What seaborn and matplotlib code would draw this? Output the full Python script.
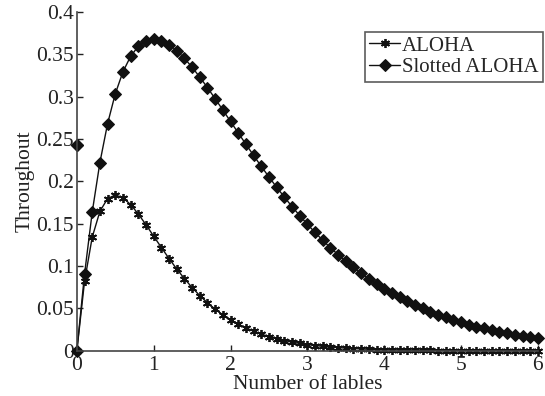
import numpy as np
import pandas as pd
import matplotlib
matplotlib.use('Agg')
import matplotlib.pyplot as plt
import seaborn as sns

# -- Data --
load = [round(0.1 * i, 1) for i in range(61)]

aloha = [0.0, 0.0819, 0.1341, 0.1646, 0.1797, 0.1839, 0.1807, 0.1726, 0.1615, 0.1488,
         0.1353, 0.1219, 0.1089, 0.0966, 0.0852, 0.0747, 0.0652, 0.0567, 0.0492, 0.0425,
         0.0366, 0.0315, 0.0271, 0.0232, 0.0198, 0.0168, 0.0143, 0.0122, 0.0103, 0.0088,
         0.0074, 0.0063, 0.0053, 0.0045, 0.0038, 0.0032, 0.0027, 0.0022, 0.0019, 0.0016,
         0.0013, 0.0011, 0.0009, 0.0008, 0.0007, 0.0006, 0.0005, 0.0004, 0.0003, 0.0003,
         0.0002, 0.0002, 0.0002, 0.0001, 0.0001, 0.0001, 0.0001, 0.0001, 0.0001, 0.0, 0.0]

slotted = [0.0, 0.0905, 0.1637, 0.2222, 0.2681, 0.3033, 0.3293, 0.3476, 0.3595, 0.3659,
           0.3679, 0.3662, 0.3614, 0.3543, 0.3452, 0.3347, 0.3230, 0.3106, 0.2975, 0.2842,
           0.2707, 0.2572, 0.2438, 0.2306, 0.2177, 0.2052, 0.1931, 0.1815, 0.1703, 0.1596,
           0.1494, 0.1397, 0.1304, 0.1217, 0.1135, 0.1057, 0.0984, 0.0915, 0.0851, 0.0790,
           0.0733, 0.0680, 0.0630, 0.0584, 0.0541, 0.0500, 0.0463, 0.0428, 0.0395, 0.0365,
           0.0337, 0.0311, 0.0287, 0.0265, 0.0244, 0.0225, 0.0207, 0.0191, 0.0176, 0.0162,
           0.0155]

# stray slotted marker sitting on the y axis
stray_x = [0.0]
stray_y = [0.243]

yticks = [0, 0.05, 0.1, 0.15, 0.2, 0.25, 0.3, 0.35, 0.4]
ytick_labels = ['0', '0.05', '0.1', '0.15', '0.2', '0.25', '0.3', '0.35', '0.4']
xticks = [0, 1, 2, 3, 4, 5, 6]

# -- Style --
sns.set_style('ticks')
plt.rcParams['font.family'] = ['Liberation Serif', 'DejaVu Serif']
plt.rcParams['xtick.direction'] = 'in'
plt.rcParams['ytick.direction'] = 'in'

df = pd.DataFrame({'load': load, 'ALOHA': aloha, 'Slotted ALOHA': slotted})

fig = plt.figure(figsize=(5.45, 3.96), dpi=100)
ax = fig.add_axes([0.141, 0.114, 0.846, 0.856])

sns.lineplot(data=df, x='load', y='ALOHA', ax=ax, color='#111111', linewidth=1.0,
             marker=(6, 2, 0), markersize=6.5, markeredgewidth=1.3,
             markeredgecolor='#111111', label='ALOHA')
sns.lineplot(data=df, x='load', y='Slotted ALOHA', ax=ax, color='#111111', linewidth=1.0,
             marker='D', markersize=6.5, markeredgecolor='#111111',
             markerfacecolor='#111111', label='Slotted ALOHA')
ax.plot(stray_x, stray_y, linestyle='none', marker='D', markersize=6.5,
        color='#111111', clip_on=False)

ax.set_xlim(0, 6)
ax.set_ylim(0, 0.4)
ax.set_xticks(xticks)
ax.set_xticklabels([str(t) for t in xticks])
ax.set_yticks(yticks)
ax.set_yticklabels(ytick_labels)
ax.tick_params(labelsize=15.5, length=4, width=1, colors='#222222', pad=2)
ax.tick_params(axis='x', pad=4)
for side in ['left', 'bottom']:
    ax.spines[side].set_color('#444444')
    ax.spines[side].set_linewidth(1.2)
sns.despine(ax=ax)
for line in ax.lines:
    line.set_clip_on(False)

ax.set_xlabel('Number of lables', fontsize=15.5, color='#222222', labelpad=0)
ax.set_ylabel('Throughout', fontsize=15.5, color='#222222', labelpad=1)

leg = ax.legend(loc='upper right', bbox_to_anchor=(543 / 545, 1 - 32 / 396),
                bbox_transform=fig.transFigure, fontsize=15, frameon=True,
                fancybox=False, edgecolor='#333333', borderpad=0.2,
                handlelength=1.5, handletextpad=0.1, labelspacing=0.1,
                borderaxespad=0)
leg.get_frame().set_linewidth(1.2)

fig.savefig('out.png', dpi=100, facecolor='white')
